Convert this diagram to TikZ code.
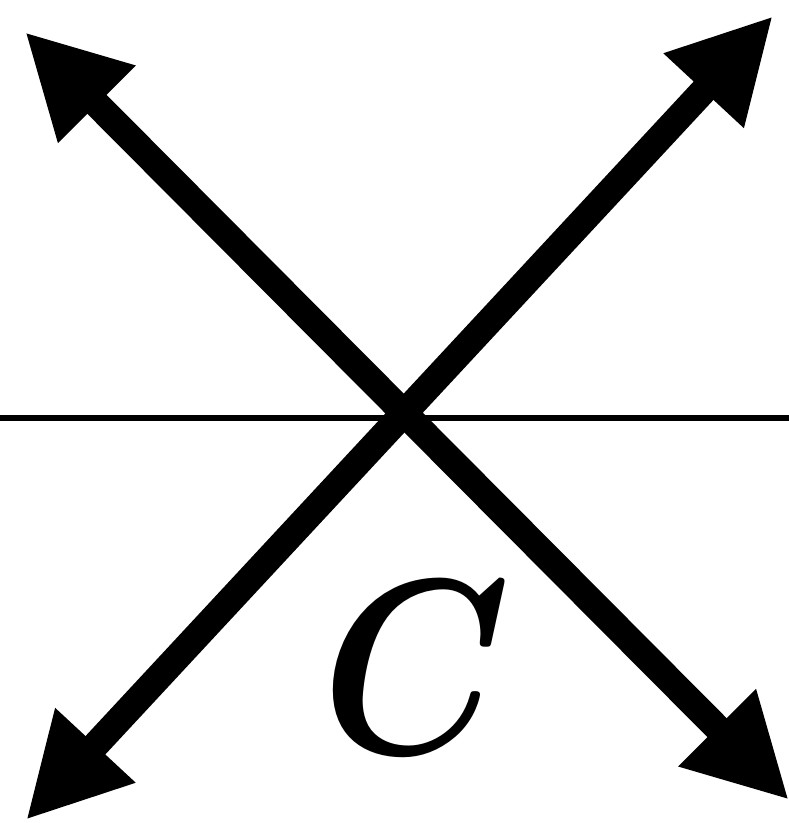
\RequirePackage{fix-cm}
\documentclass[tikz,border=0pt]{standalone}
\usetikzlibrary{arrows.meta}

\begin{document}
\begin{tikzpicture}[
  >={Triangle[length=1.02cm,width=1.02cm]},
  fleche/.style={line width=0.27cm,<->},
  axe/.style={line width=0.06cm},
  lettre/.style={font=\boldmath\fontsize{71}{74}\selectfont,xscale=0.86,transform shape},
]
  \useasboundingbox (0,0) rectangle (7.89,8.23);

  % Coordonnees (extremites des fleches)
  \coordinate (NO) at (0.25,7.91);
  \coordinate (SE) at (7.89,0.23);
  \coordinate (SO) at (0.26,0.03);
  \coordinate (NE) at (7.73,8.07);
  % Droite horizontale
  \coordinate (G) at (0,4.05);
  \coordinate (D) at (7.89,4.05);

  \draw[axe] (G) -- (D);

  % Fleches doubles
  \draw[fleche] (NO) -- (SE);
  \draw[fleche] (SO) -- (NE);

  % Lettre
  \node[lettre] (C) at (4.17,1.55) {$C$};
\end{tikzpicture}
\end{document}
